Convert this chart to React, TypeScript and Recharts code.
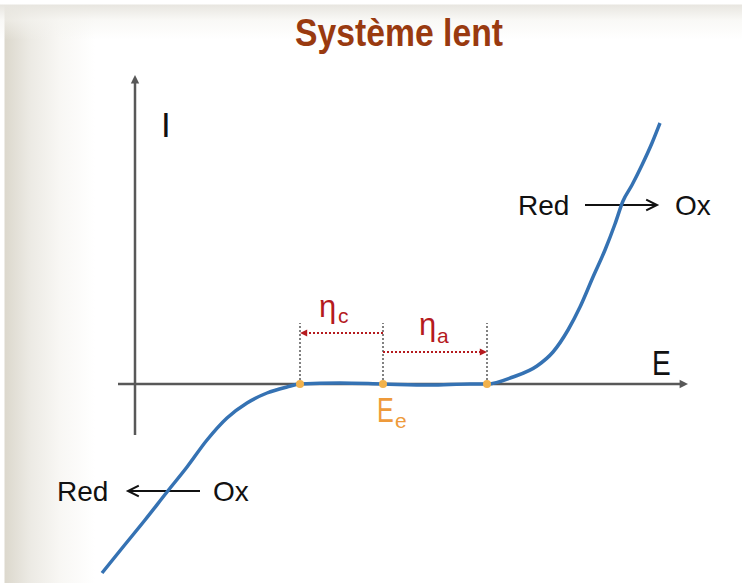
import React from 'react';
import { LineChart, Line, XAxis, YAxis, ReferenceLine, ReferenceDot } from 'recharts';

// Curve samples (E in arbitrary units, Ee = 0 ; I = 0 on the E axis)
const curveE = [-2.81, -2.6, -2.38, -2.16, -1.96, -1.76, -1.56, -1.36, -1.16, -0.96, -0.83, -0.43, 0, 0.47, 0.87, 1.04, 1.3, 1.54, 1.7, 1.85, 1.97, 2.1, 2.22, 2.32, 2.4, 2.49, 2.59, 2.69, 2.77];
const curveI = [-1.89, -1.63, -1.36, -1.08, -0.83, -0.56, -0.34, -0.19, -0.09, -0.03, 0, 0.01, 0, -0.01, 0, 0, 0.07, 0.18, 0.32, 0.54, 0.77, 1.07, 1.34, 1.6, 1.83, 1.99, 2.19, 2.41, 2.61];

// Key potentials
const etaCathodic = -0.83;
const equilibrium = 0;
const etaAnodic = 1.04;
const keyPoints = [etaCathodic, equilibrium, etaAnodic];

const xDomain: [number, number] = [-3.83, 3.59];
const yDomain: [number, number] = [-1.99, 3.84];

const data = curveE.map((e, i) => ({ E: e, I: curveI[i] }));

const AXIS = '#585858';
const BLUE = '#3572B3';
const RED = '#B51A1E';
const ORANGE = '#EE9A3A';
const FONT = '"Liberation Sans", Arial, sans-serif';

type ArrowOpts = { color: string; width: number; dash?: string; head: 'filled' | 'open'; size: number };

const makeArrow = (o: ArrowOpts) => (p: any) => {
  const { x1, y1, x2, y2 } = p;
  const dx = x2 - x1;
  const dy = y2 - y1;
  const len = Math.sqrt(dx * dx + dy * dy) || 1;
  const ux = dx / len;
  const uy = dy / len;
  const nx = -uy;
  const ny = ux;
  const s = o.size;
  const bx = x2 - ux * s * 1.2;
  const by = y2 - uy * s * 1.2;
  const a = `${bx + nx * s * 0.6},${by + ny * s * 0.6}`;
  const b = `${bx - nx * s * 0.6},${by - ny * s * 0.6}`;
  const endX = o.head === 'filled' ? bx + ux * 1 : x2;
  const endY = o.head === 'filled' ? by + uy * 1 : y2;
  return (
    <g>
      <line x1={x1} y1={y1} x2={endX} y2={endY} stroke={o.color} strokeWidth={o.width} strokeDasharray={o.dash} />
      {o.head === 'filled' ? (
        <polygon points={`${x2},${y2} ${a} ${b}`} fill={o.color} />
      ) : (
        <polyline points={`${a} ${x2},${y2} ${b}`} fill="none" stroke={o.color} strokeWidth={o.width} />
      )}
    </g>
  );
};

type TextOpts = { size: number; color: string; sx?: number; sub?: string; subSize?: number; subDx?: number; subDy?: number };

const makeText = (text: string, o: TextOpts) => (p: any) => (
  <g>
    <text
      transform={`translate(${p.cx},${p.cy}) scale(${o.sx || 1},1)`}
      x={0}
      y={0}
      fontSize={o.size}
      fill={o.color}
      fontFamily={FONT}
    >
      {text}
    </text>
    {o.sub ? (
      <text x={p.cx + (o.subDx || 0)} y={p.cy + (o.subDy || 0)} fontSize={o.subSize} fill={o.color} fontFamily={FONT}>
        {o.sub}
      </text>
    ) : null}
  </g>
);

const axisArrow = makeArrow({ color: AXIS, width: 2.5, head: 'filled', size: 7 });
const redArrow = makeArrow({ color: RED, width: 2, dash: '2 2', head: 'filled', size: 6 });
const blackArrow = makeArrow({ color: '#111', width: 2, head: 'open', size: 9 });

export default function App() {
  return (
    <div
      style={{
        position: 'absolute',
        left: 0,
        top: 0,
        width: 742,
        height: 583,
        background:
          'linear-gradient(to bottom, #ffffff 0px, #ffffff 4px, rgba(232,230,224,1) 5px, rgba(245,244,240,0.6) 20px, rgba(255,255,255,0) 40px), linear-gradient(to right, #ffffff 0px, #ffffff 4px, #DCD8CD 5px, #ECEAE4 30px, #F8F7F4 60px, #ffffff 95px)',
      }}
    >
      <svg width={742} height={70} style={{ position: 'absolute', left: 0, top: 0 }}>
        <text
          x={295}
          y={46}
          textLength={208}
          lengthAdjust="spacingAndGlyphs"
          fontSize={38}
          fontWeight="bold"
          fill="#993A10"
          fontFamily={FONT}
        >
          Système lent
        </text>
      </svg>
      <div style={{ position: 'absolute', left: 0, top: 0 }}>
        <LineChart width={742} height={583} data={data} margin={{ top: 0, right: 0, bottom: 0, left: 0 }}>
          <XAxis type="number" dataKey="E" domain={xDomain} hide allowDataOverflow />
          <YAxis type="number" domain={yDomain} hide allowDataOverflow />

          {/* axes */}
          <ReferenceLine segment={[{ x: -2.65, y: 0 }, { x: 3.05, y: 0 }]} shape={axisArrow} />
          <ReferenceLine segment={[{ x: -2.48, y: -0.51 }, { x: -2.48, y: 3.09 }]} shape={axisArrow} />

          {/* dotted verticals */}
          {keyPoints.map((k) => (
            <ReferenceLine
              key={'v' + k}
              segment={[{ x: k, y: 0 }, { x: k, y: 0.61 }]}
              stroke={AXIS}
              strokeWidth={1.5}
              strokeDasharray="2 2"
            />
          ))}

          {/* overpotential arrows */}
          <ReferenceLine segment={[{ x: equilibrium, y: 0.51 }, { x: etaCathodic, y: 0.51 }]} shape={redArrow} />
          <ReferenceLine segment={[{ x: equilibrium, y: 0.32 }, { x: etaAnodic, y: 0.32 }]} shape={redArrow} />

          {/* reaction arrows */}
          <ReferenceLine segment={[{ x: -1.83, y: -1.07 }, { x: -2.55, y: -1.07 }]} shape={blackArrow} />
          <ReferenceLine segment={[{ x: 2.02, y: 1.79 }, { x: 2.74, y: 1.79 }]} shape={blackArrow} />

          <Line
            type="monotone"
            dataKey="I"
            stroke={BLUE}
            strokeWidth={3.5}
            dot={false}
            activeDot={false}
            isAnimationActive={false}
          />

          {keyPoints.map((k) => (
            <ReferenceDot key={'d' + k} x={k} y={0} r={4} fill="#F2B24C" stroke="none" />
          ))}

          {/* labels */}
          <ReferenceDot x={-2.22} y={2.47} r={0} shape={makeText('I', { size: 35, color: '#111' })} />
          <ReferenceDot x={2.69} y={0.09} r={0} shape={makeText('E', { size: 36, color: '#111', sx: 0.78 })} />
          <ReferenceDot
            x={-0.06}
            y={-0.38}
            r={0}
            shape={makeText('E', { size: 35, color: ORANGE, sx: 0.72, sub: 'e', subSize: 21, subDx: 18, subDy: 6 })}
          />
          <ReferenceDot
            x={-0.64}
            y={0.67}
            r={0}
            shape={makeText('η', { size: 31, color: RED, sub: 'c', subSize: 21, subDx: 19, subDy: 6 })}
          />
          <ReferenceDot
            x={0.36}
            y={0.49}
            r={0}
            shape={makeText('η', { size: 31, color: RED, sub: 'a', subSize: 21, subDx: 18, subDy: 8 })}
          />
          <ReferenceDot x={-3.26} y={-1.17} r={0} shape={makeText('Red', { size: 28, color: '#111' })} />
          <ReferenceDot x={-1.7} y={-1.17} r={0} shape={makeText('Ox', { size: 28, color: '#111' })} />
          <ReferenceDot x={1.35} y={1.69} r={0} shape={makeText('Red', { size: 28, color: '#111' })} />
          <ReferenceDot x={2.92} y={1.69} r={0} shape={makeText('Ox', { size: 28, color: '#111' })} />
        </LineChart>
      </div>
    </div>
  );
}
